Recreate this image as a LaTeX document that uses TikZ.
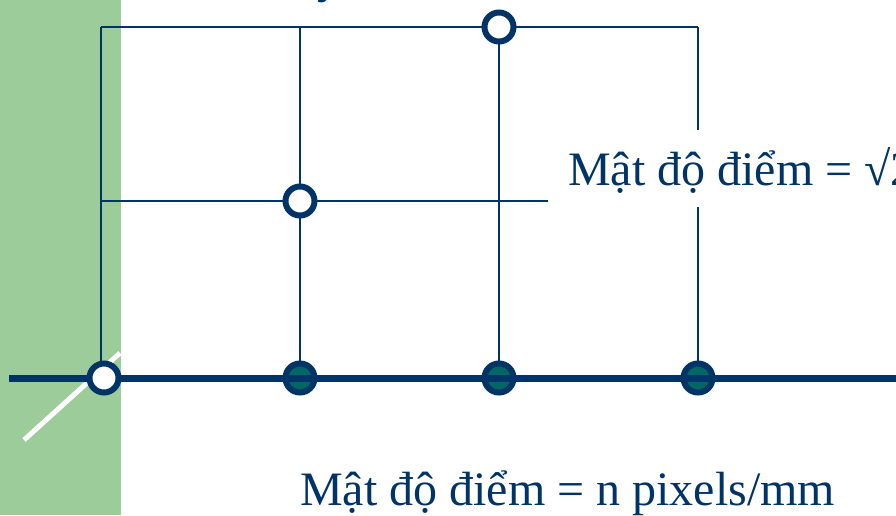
\documentclass[tikz,border=0pt]{standalone}
\usepackage{fontspec}
\setmainfont{Liberation Serif}
\definecolor{navy}{RGB}{0,51,102}
\definecolor{tealfill}{RGB}{0,102,102}
\definecolor{leaf}{RGB}{156,204,153}
\begin{document}
\begin{tikzpicture}[x=1pt,y=-1pt,
  thinline/.style={navy, line width=2pt},
  axisline/.style={navy, line width=7pt},
  opendot/.style={circle, draw=navy, fill=white, line width=6pt, minimum size=29pt, inner sep=0pt},
  fulldot/.style={circle, draw=navy, fill=tealfill, line width=6pt, minimum size=29pt, inner sep=0pt},
  labeltext/.style={text=navy, font=\fontsize{48}{58}\selectfont, inner sep=0pt}]
\useasboundingbox (0,0) rectangle (896,515);
\fill[leaf] (0,0) rectangle (121,515);
% coordinates
\coordinate (tl) at (101,27);
\coordinate (t1) at (300,27);
\coordinate (t3) at (698,27);
\coordinate (ml) at (101,201);
\coordinate (mr) at (548,201);
\coordinate (bl) at (101,378);
\coordinate (axL) at (9,378);
\coordinate (axR) at (896,378);
\coordinate (dA) at (24,440);
\coordinate (dB) at (120,353);
% white diagonal
\draw[white, line width=5pt] (dA) -- (dB);
% dots positions
\node[fulldot] (f1) at (300,378) {};
\node[fulldot] (f2) at (499,378) {};
\node[fulldot] (f3) at (698,378) {};
% grid lines
\draw[thinline] (tl) -- (t3);
\draw[thinline] (ml) -- (mr);
\draw[thinline] (tl) -- (bl);
\draw[thinline] (t1) -- (f1);
\draw[thinline] (499,27) -- (f2);
\draw[thinline] (t3) -- (f3);
% axis
\draw[axisline] (axL) -- (axR);
% open dots
\node[opendot] (o1) at (104,378) {};
\node[opendot] (o2) at (300,201) {};
\node[opendot] (o3) at (499,27) {};
% texts
\node[labeltext, anchor=base west] (ytop) at (317,-8) {y};
\node[labeltext, anchor=base west, fill=white, inner xsep=20pt, text height=55pt, text depth=22pt] (rlabel) at (548,185) {Mật độ điểm = √2 n pixels/mm};
\node[labeltext, anchor=base west] (caption) at (300,505) {Mật độ điểm = n pixels/mm};
\end{tikzpicture}
\end{document}
